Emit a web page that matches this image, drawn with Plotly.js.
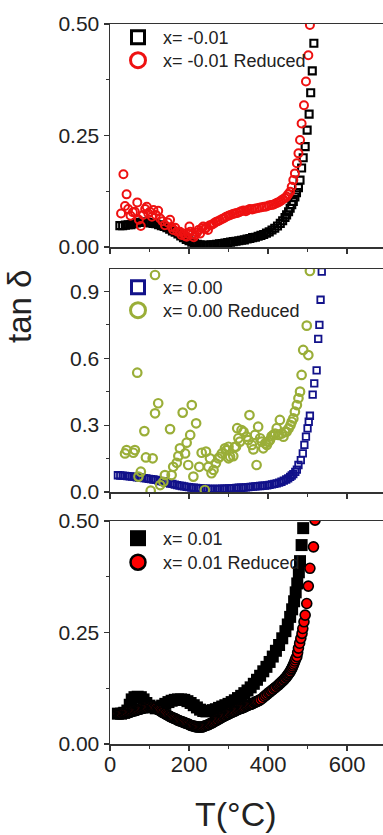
<!DOCTYPE html>
<html>
<head>
<meta charset="utf-8">
<script src="https://cdn.plot.ly/plotly-3.0.1.min.js"></script>
<style>html,body{margin:0;padding:0;background:#fff;}#chart{width:383px;height:835px;}</style>
</head>
<body>
<div id="chart"></div>
<script>
// ---------- Panel 1: x = -0.01 ----------
const T1_sq = [25,32,39,46,53,60,67,74,81,88,95,102,109,116,123,130,137,144,151,158,165,172,179,186,193,200,207,214,221,228,235,242,249,256,263,270,277,284,291,298,305,312,319,326,333,340,347,354,361,368,375,382,389,396,403,410,417,424,431,437,443,447,452,456,460,464,468,472,477,481,485,489,494,499,504,508,512,516];
const V1_sq = [0.048,0.048,0.049,0.050,0.050,0.052,0.054,0.055,0.056,0.056,0.055,0.054,0.053,0.052,0.050,0.048,0.046,0.043,0.040,0.036,0.033,0.029,0.025,0.021,0.017,0.014,0.011,0.008,0.006,0.005,0.004,0.004,0.004,0.005,0.005,0.006,0.007,0.008,0.009,0.010,0.011,0.012,0.013,0.014,0.015,0.016,0.018,0.019,0.021,0.022,0.024,0.026,0.028,0.031,0.034,0.038,0.042,0.047,0.053,0.059,0.066,0.072,0.079,0.087,0.095,0.102,0.112,0.122,0.133,0.150,0.177,0.200,0.225,0.262,0.298,0.346,0.395,0.457];
const T1_ci = [28,34,38,42,46,52,58,63,69,73,78,84,89,93,97,101,106,110,116,122,127,133,139,146,152,156,160,165,170,177,181,186,190,194,198,201,203,208,212,215,220,224,228,232,236,240,244,248,253,258,263,268,273,278,284,289,294,300,305,311,316,321,327,332,338,344,349,354,360,366,372,378,384,390,396,402,408,413,418,423,428,433,438,443,447,451,456,460,464,468,473,477,481,485,491,496,502,506];
const V1_ci = [0.075,0.163,0.092,0.118,0.085,0.070,0.078,0.079,0.100,0.061,0.047,0.072,0.085,0.090,0.075,0.079,0.068,0.083,0.072,0.081,0.064,0.058,0.049,0.055,0.061,0.045,0.038,0.043,0.035,0.034,0.027,0.030,0.025,0.023,0.030,0.046,0.034,0.028,0.022,0.027,0.032,0.038,0.030,0.042,0.046,0.040,0.044,0.038,0.049,0.050,0.053,0.056,0.058,0.060,0.063,0.065,0.068,0.070,0.072,0.074,0.075,0.076,0.078,0.080,0.082,0.080,0.083,0.085,0.084,0.086,0.087,0.088,0.089,0.090,0.091,0.093,0.094,0.095,0.097,0.099,0.101,0.104,0.107,0.110,0.113,0.118,0.124,0.135,0.150,0.165,0.188,0.210,0.240,0.277,0.318,0.371,0.430,0.498];

// ---------- Panel 2: x = 0.00 ----------
const T2_sq = [20,26,32,38,44,50,56,62,68,74,80,86,92,98,104,110,116,122,128,134,140,146,152,158,164,170,176,182,188,194,200,206,212,218,224,230,236,242,248,254,260,266,272,278,284,290,296,302,308,314,320,326,332,338,344,350,356,362,368,374,380,386,392,398,404,410,416,422,428,434,440,446,451,456,460,464,469,473,477,483,488,492,496,500,503,506,513,517,523,527,530,533,536];
const V2_sq = [0.075,0.074,0.073,0.072,0.071,0.070,0.069,0.068,0.066,0.065,0.064,0.062,0.061,0.059,0.058,0.056,0.054,0.052,0.049,0.047,0.044,0.041,0.038,0.036,0.033,0.031,0.029,0.027,0.025,0.023,0.022,0.020,0.019,0.018,0.017,0.016,0.015,0.015,0.014,0.014,0.014,0.014,0.014,0.014,0.015,0.015,0.015,0.016,0.016,0.017,0.018,0.019,0.019,0.020,0.021,0.022,0.023,0.024,0.025,0.026,0.027,0.028,0.029,0.030,0.032,0.034,0.036,0.039,0.042,0.046,0.051,0.056,0.061,0.068,0.074,0.080,0.090,0.100,0.121,0.143,0.173,0.211,0.248,0.285,0.315,0.342,0.437,0.487,0.545,0.687,0.749,0.862,0.988];
const T2_ci = [38,42,59,63,69,72,78,87,91,103,108,114,114,122,127,135,139,152,156,160,169,173,177,184,190,194,198,203,207,211,218,226,232,240,243,249,253,257,262,268,274,278,283,291,295,300,300,304,312,316,319,322,325,329,333,338,346,350,353,359,363,367,371,375,380,384,388,393,397,401,405,409,413,418,422,426,430,435,439,443,447,452,457,460,464,468,473,477,481,485,489,498,502,506];
const V2_ci = [0.173,0.188,0.176,0.188,0.535,0.069,0.091,0.273,0.155,0.006,0.151,0.353,0.973,0.398,0.031,0.046,0.076,0.282,0.076,0.113,0.131,0.161,0.196,0.356,0.173,0.221,0.121,0.256,0.390,0.069,0.308,0.113,0.176,0.009,0.181,0.113,0.151,0.084,0.099,0.129,0.151,0.158,0.173,0.196,0.188,0.203,0.151,0.158,0.161,0.203,0.203,0.286,0.241,0.226,0.278,0.270,0.248,0.233,0.345,0.211,0.191,0.256,0.121,0.293,0.241,0.226,0.196,0.218,0.211,0.226,0.233,0.250,0.256,0.262,0.286,0.256,0.323,0.262,0.248,0.270,0.270,0.285,0.300,0.315,0.330,0.360,0.390,0.420,0.450,0.525,0.637,0.746,0.614,0.991];

// ---------- Panel 3: x = 0.01 ----------
const T3_sq = [20,28,36,44,50,55,62,70,78,85,92,100,108,116,124,132,140,148,156,164,172,180,188,196,204,212,220,228,236,244,252,260,268,276,284,292,300,308,316,324,332,340,348,356,364,372,380,388,396,404,412,420,428,436,444,450,456,461,466,470,474,478,481,485,489];
const V3_sq = [0.068,0.068,0.070,0.075,0.088,0.100,0.105,0.106,0.105,0.100,0.092,0.086,0.082,0.080,0.082,0.086,0.090,0.094,0.097,0.099,0.100,0.100,0.099,0.096,0.092,0.087,0.082,0.077,0.074,0.073,0.074,0.076,0.078,0.081,0.084,0.087,0.090,0.094,0.098,0.103,0.108,0.114,0.120,0.127,0.135,0.144,0.153,0.163,0.173,0.184,0.196,0.209,0.222,0.237,0.253,0.268,0.285,0.302,0.320,0.340,0.360,0.385,0.410,0.446,0.484];
const T3_ci = [20,23,26,29,32,35,38,41,44,47,50,53,56,59,62,65,68,71,74,77,80,83,86,89,92,95,98,101,104,107,110,113,116,119,122,125,128,131,134,137,140,143,146,149,152,155,158,161,164,167,170,173,176,179,182,185,188,191,194,197,200,203,206,209,212,215,218,221,224,227,230,233,236,239,242,245,248,251,254,257,260,263,266,269,272,275,278,281,284,287,290,293,296,299,302,305,308,311,314,317,320,323,326,329,332,335,338,341,344,347,350,353,356,359,362,365,368,371,374,377,380,385,390,394,398,402,405,409,412,416,419,423,426,429,432,435,438,441,443,446,448,450,452,454,456,458,460,462,464,466,468,470,473,475,477,480,483,486,488,491,494,498,502,506,515,519];
const V3_ci = [0.068,0.068,0.068,0.068,0.069,0.069,0.069,0.070,0.070,0.071,0.071,0.072,0.073,0.074,0.074,0.075,0.076,0.077,0.078,0.078,0.079,0.080,0.081,0.081,0.082,0.082,0.083,0.083,0.083,0.082,0.082,0.081,0.080,0.078,0.077,0.076,0.074,0.072,0.071,0.069,0.068,0.066,0.065,0.063,0.062,0.060,0.059,0.058,0.057,0.056,0.054,0.053,0.052,0.051,0.050,0.049,0.048,0.047,0.046,0.045,0.044,0.042,0.041,0.041,0.040,0.039,0.039,0.038,0.038,0.038,0.038,0.038,0.039,0.040,0.041,0.042,0.043,0.044,0.046,0.047,0.048,0.050,0.051,0.053,0.054,0.056,0.057,0.059,0.060,0.062,0.063,0.064,0.066,0.067,0.068,0.070,0.071,0.072,0.073,0.074,0.076,0.077,0.078,0.079,0.080,0.081,0.082,0.083,0.085,0.086,0.087,0.088,0.089,0.090,0.091,0.093,0.094,0.095,0.096,0.098,0.099,0.102,0.106,0.109,0.112,0.115,0.117,0.120,0.122,0.125,0.127,0.130,0.132,0.135,0.137,0.140,0.142,0.145,0.147,0.150,0.152,0.155,0.157,0.160,0.162,0.166,0.169,0.173,0.177,0.181,0.186,0.191,0.196,0.205,0.215,0.226,0.237,0.248,0.259,0.274,0.289,0.315,0.354,0.394,0.442,0.502];

const names = ['x= -0.01','x= -0.01 Reduced','x= 0.00','x= 0.00 Reduced','x= 0.01','x= 0.01 Reduced'];
const yTicks1 = [0, 0.25, 0.5];
const yTicks2 = [0, 0.3, 0.6, 0.9];
const xTicks = [0, 200, 400, 600];

const FONT = 'Liberation Sans, Arial, sans-serif';
const RED = '#ee1111';
const NAVY = '#12128a';
const OLIVE = '#9aae38';

function legendDummy(name, legend, marker){
  return {x:[null], y:[null], type:'scatter', mode:'markers', name:name, legend:legend, showlegend:true, marker:marker, hoverinfo:'skip'};
}

const traces = [
  {x:T1_sq, y:V1_sq, xaxis:'x', yaxis:'y', type:'scatter', mode:'markers', showlegend:false,
   marker:{symbol:'square-open', size:7, color:'#000', line:{width:2.1, color:'#000'}}},
  {x:T1_ci, y:V1_ci, xaxis:'x', yaxis:'y', type:'scatter', mode:'markers', showlegend:false,
   marker:{symbol:'circle-open', size:8, color:RED, line:{width:2, color:RED}}},
  {x:T2_sq, y:V2_sq, xaxis:'x2', yaxis:'y2', type:'scatter', mode:'markers', showlegend:false,
   marker:{symbol:'square-open', size:6.5, color:NAVY, line:{width:1.8, color:NAVY}}},
  {x:T2_ci, y:V2_ci, xaxis:'x2', yaxis:'y2', type:'scatter', mode:'markers', showlegend:false,
   marker:{symbol:'circle-open', size:8.5, color:OLIVE, line:{width:2.2, color:OLIVE}}},
  {x:T3_sq, y:V3_sq, xaxis:'x3', yaxis:'y3', type:'scatter', mode:'markers', showlegend:false,
   marker:{symbol:'square', size:12, color:'#000', line:{width:0}}},
  {x:T3_ci, y:V3_ci, xaxis:'x3', yaxis:'y3', type:'scatter', mode:'markers', showlegend:false,
   marker:{symbol:'circle', size:10, color:'#ff0000', line:{width:1.6, color:'#000'}}},
  legendDummy(names[0], 'legend', {symbol:'square-open', size:13, color:'#000', line:{width:3, color:'#000'}}),
  legendDummy(names[1], 'legend2', {symbol:'circle-open', size:15, color:RED, line:{width:3, color:RED}}),
  legendDummy(names[2], 'legend3', {symbol:'square-open', size:13, color:NAVY, line:{width:3, color:NAVY}}),
  legendDummy(names[3], 'legend4', {symbol:'circle-open', size:15, color:OLIVE, line:{width:3, color:OLIVE}}),
  legendDummy(names[4], 'legend5', {symbol:'square', size:16, color:'#000', line:{width:0}}),
  legendDummy(names[5], 'legend6', {symbol:'circle', size:15, color:'#ff0000', line:{width:2.5, color:'#000'}})
];

const W = 383, H = 835;
function yd(top, bottom){ return [1 - bottom/H, 1 - top/H]; }
const xDom = [110/W, 1];
const xRange = [0, 691];

function xaxis(anchor, showLabels){
  return {domain:xDom, range:xRange, anchor:anchor, showgrid:false, zeroline:false,
    showline:true, linecolor:'#333', linewidth:1.5, mirror:true,
    ticks:'outside', ticklen:5, tickwidth:1.2, tickcolor:'#333',
    tickmode:'array', tickvals:xTicks, ticktext:xTicks.map(String),
    showticklabels:showLabels, tickfont:{family:FONT, size:22, color:'#222'},
    ticklabelstandoff:-5,
    minor:{tickmode:'linear', tick0:0, dtick:100, ticks:'outside', ticklen:3, tickwidth:1.2, tickcolor:'#333'}};
}
function yaxis(dom, anchor, range, vals, fmt, minorD){
  return {domain:dom, range:range, anchor:anchor, showgrid:false, zeroline:false,
    showline:true, linecolor:'#333', linewidth:1.5, mirror:true,
    ticks:'outside', ticklen:5, tickwidth:1.2, tickcolor:'#333',
    tickmode:'array', tickvals:vals, ticktext:vals.map(v => v.toFixed(fmt)),
    tickfont:{family:FONT, size:21, color:'#222'},
    minor:{tickmode:'linear', tick0:0, dtick:minorD, ticks:'outside', ticklen:3, tickwidth:1.2, tickcolor:'#333'}};
}
// each legend row placed by the pixel row where its centre sits in the reference
function legendAt(centerPx){
  return {x:113/W, y:1 - (centerPx - 19)/H, xanchor:'left', yanchor:'top', bgcolor:'rgba(0,0,0,0)',
    borderwidth:0, font:{family:FONT, size:18, color:'#222'}, itemwidth:40, tracegroupgap:0, itemsizing:'trace'};
}

const layout = {
  width:W, height:H, margin:{l:0, r:0, t:0, b:0}, paper_bgcolor:'#fff', plot_bgcolor:'rgba(0,0,0,0)',
  showlegend:true,
  xaxis: xaxis('y', false),
  xaxis2: Object.assign(xaxis('y2', false), {matches:'x'}),
  xaxis3: Object.assign(xaxis('y3', true), {matches:'x'}),
  yaxis: yaxis(yd(24, 247), 'x', [0, 0.5], yTicks1, 2, 0.125),
  yaxis2: yaxis(yd(269, 492), 'x2', [0, 1.0], yTicks2, 1, 0.15),
  yaxis3: yaxis(yd(521, 744), 'x3', [0, 0.5], yTicks1, 2, 0.125),
  legend: legendAt(38),
  legend2: legendAt(61),
  legend3: legendAt(288),
  legend4: legendAt(311),
  legend5: legendAt(539),
  legend6: legendAt(563),
  annotations:[
    {text:'tan δ', xref:'paper', yref:'paper', x:20/W, y:1 - 307/H, xanchor:'center', yanchor:'middle',
     textangle:-90, showarrow:false, font:{family:FONT, size:33, color:'#222'}},
    {text:'T(°C)', xref:'paper', yref:'paper', x:236/W, y:1 - 814/H, xanchor:'center', yanchor:'middle',
     showarrow:false, font:{family:FONT, size:34, color:'#222'}}
  ]
};

Plotly.newPlot('chart', traces, layout, {displayModeBar:false, staticPlot:true});
</script>
</body>
</html>
